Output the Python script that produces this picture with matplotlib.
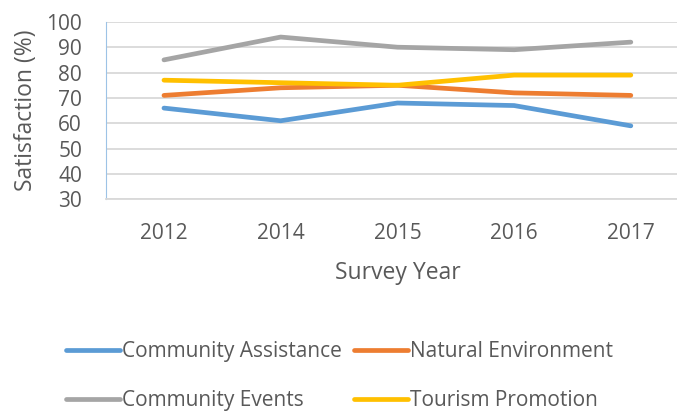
import matplotlib.pyplot as plt

# survey results
years = ['2012', '2014', '2015', '2016', '2017']
community_assistance = [66, 61, 68, 67, 59]
natural_environment = [71, 74, 75, 72, 71]
community_events = [85, 94, 90, 89, 92]
tourism_promotion = [77, 76, 75, 79, 79]

series = [
    ('Community Assistance', community_assistance, '#5b9bd5'),
    ('Natural Environment', natural_environment, '#ed7d31'),
    ('Community Events', community_events, '#a5a5a5'),
    ('Tourism Promotion', tourism_promotion, '#ffc000'),
]

plt.rcParams['font.family'] = ['Open Sans', 'DejaVu Sans']
text_color = '#595959'

fig = plt.figure(figsize=(6.77, 4.12), dpi=100)
ax = fig.add_axes([0.156, 0.516, 0.862, 0.431])

x = range(len(years))
lines = {}
for name, vals, col in series:
    lines[name], = ax.plot(x, vals, color=col, lw=3.4, solid_capstyle='round', label=name)

ax.set_xlim(-0.5, len(years) - 0.5)
ax.set_ylim(30, 100)
ax.set_yticks(range(30, 101, 10))
ax.set_xticks(list(x))
ax.set_xticklabels(years)
ax.tick_params(length=0, labelsize=15, colors=text_color)
ax.tick_params(axis='y', pad=17)
ax.tick_params(axis='x', pad=17)
ax.grid(axis='y', color='#d9d9d9', lw=1.3)
ax.set_axisbelow(True)
for s in ['top', 'right']:
    ax.spines[s].set_visible(False)
ax.spines['bottom'].set_color('#d9d9d9')
ax.spines['bottom'].set_linewidth(1.3)
ax.spines['left'].set_color('#9dc3e6')
ax.spines['left'].set_linewidth(0.8)

ax.set_ylabel('Satisfaction (%)', fontsize=16.5, color=text_color, labelpad=6)
ax.set_xlabel('Survey Year', fontsize=16.5, color=text_color, labelpad=12)

# legend reads row by row: ncol=2 fills column-wise, so interleave
order = ['Community Assistance', 'Community Events', 'Natural Environment', 'Tourism Promotion']
fig.legend([lines[n] for n in order], order, loc='upper left',
           bbox_to_anchor=(0.07, 0.218), ncol=2, frameon=False,
           fontsize=15, handlelength=2.6, handletextpad=0.1, columnspacing=0.55,
           labelspacing=1.35, labelcolor=text_color)

fig.savefig('out.png', dpi=100)
